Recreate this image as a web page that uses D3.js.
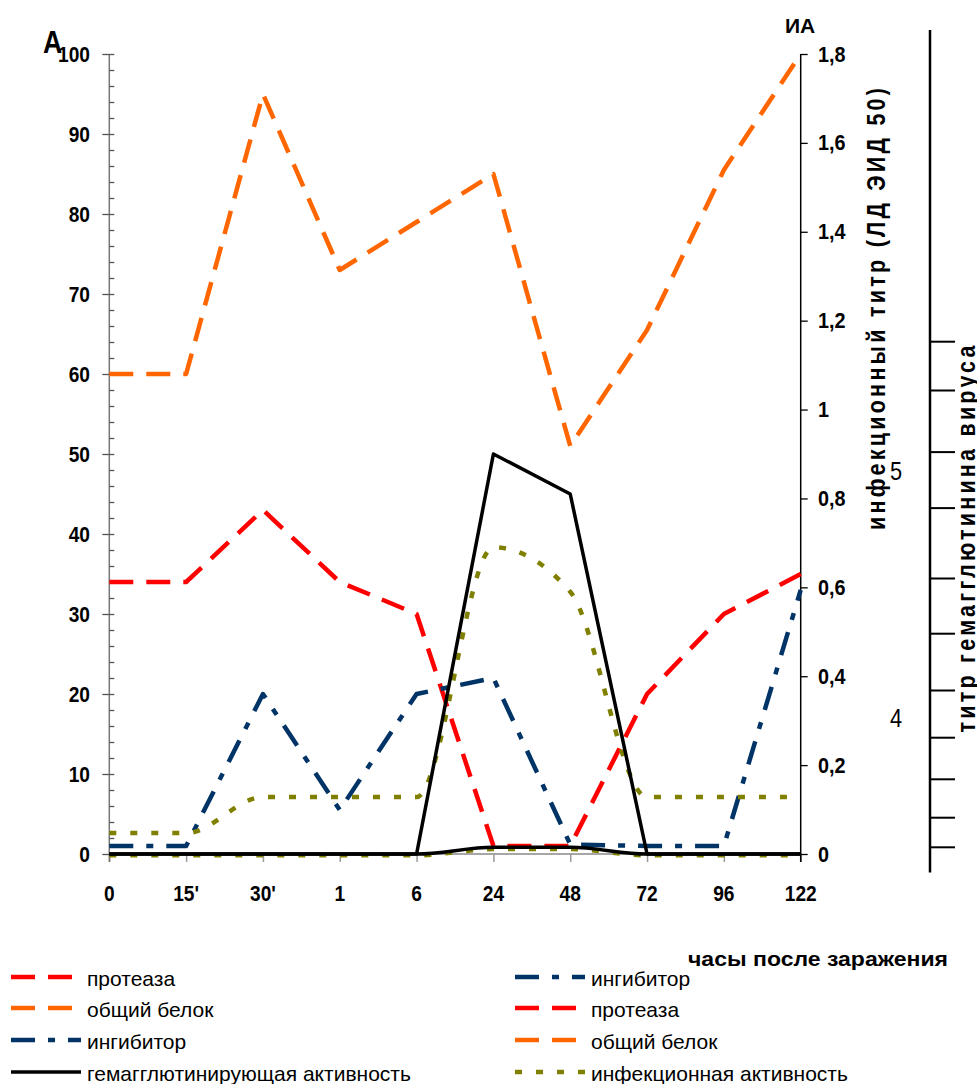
<!DOCTYPE html>
<html><head><meta charset="utf-8">
<script src="https://cdn.jsdelivr.net/npm/d3@7"></script>
<style>body{margin:0;background:#fff}svg{display:block}</style>
</head><body><svg id="c" width="977" height="1084"></svg>
<script>
// ---------- data ----------
const categories = ["0","15'","30'","1","6","24","48","72","96","122"];
const protease      = [34, 34, 43, 34, 30, 1, 1, 20, 30, 35];
const totalProtein  = [60, 60, 95, 73, 79, 85, 51, 65.5, 85.5, 100];
const inhibitor     = [1, 1, 20, 5.5, 20, 22, 1.2, 1, 1, 33];
const hemagglut     = [0, 0, 0, 0, 0, 50, 45, 0, 0, 0];
// secondary axis (ИА)
const infectious    = [0.047, 0.047, 0.128, 0.128, 0.128, 0.69, 0.59, 0.128, 0.128, 0.128];
const hemagglut2    = [0, 0, 0, 0, 0, 0.015, 0.015, 0, 0, 0];
const infectious2   = [-0.003, -0.003, -0.003, -0.003, -0.003, 0.011, 0.011, -0.003, -0.003, -0.003];

const leftTicks = [0,10,20,30,40,50,60,70,80,90,100];
const leftMinorTicks = d3.range(0, 101, 2);
const rightTicks = [0,0.2,0.4,0.6,0.8,1,1.2,1.4,1.6,1.8];
const rightTickLabels = ["0","0,2","0,4","0,6","0,8","1","1,2","1,4","1,6","1,8"];
// far right (hemagglutinin titre) axis, in its own units
const farTicks = [0.9, 4.6, 9.4, 14.6, 20.5, 27.6, 34.5, 43.3, 50.3, 58, 64.1];
const farLabelValues = [47.9, 17];
const farLabelTexts = ["5", "4"];

const legendLeftNames  = ["протеаза","общий белок","ингибитор","гемагглютинирующая активность"];
const legendLeftKeys   = ["protease","protein","inhibitor","hemag"];
const legendRightNames = ["ингибитор","протеаза","общий белок","инфекционная активность"];
const legendRightKeys  = ["inhibitor","protease","protein","infect"];

// ---------- styles ----------
const styles = {
  protease: {color:"#FF0000", dash:"24,13", w:4.5},
  protein:  {color:"#FF6600", dash:"24,13", w:4.5},
  inhibitor:{color:"#003366", dash:"24,13,7,13", w:4.5},
  hemag:    {color:"#000000", dash:null, w:3.5},
  infect:   {color:"#808000", dash:"7,14", w:4.5}
};
const FF = '"Liberation Sans", Arial, sans-serif';

const svg = d3.select("#c");
const x  = d3.scalePoint().domain(categories).range([109.3, 800.7]);
const yL = d3.scaleLinear().domain([0,100]).range([854,54]);
const yR = d3.scaleLinear().domain([0,1.8]).range([854,54]);
const yF = d3.scaleLinear().domain([0,100]).range([854,54]);

function txt(g, px, py, s, o) {
  o = Object.assign({size:22, weight:"bold", anchor:"start", sx:1, fill:"#000"}, o||{});
  return g.append("text")
    .attr("transform", `translate(${px},${py}) scale(${o.sx},1)`)
    .attr("text-anchor", o.anchor)
    .attr("fill", o.fill)
    .style("font-family", FF).style("font-size", o.size+"px").style("font-weight", o.weight)
    .text(s);
}
function vtitle(px, py, s, len, sx) {
  svg.append("text").attr("transform",`translate(${px},${py}) rotate(-90) scale(${sx},1)`)
    .attr("text-anchor","middle")
    .attr("textLength", len/sx).attr("lengthAdjust","spacing")
    .style("font-family",FF).style("font-size","25px").style("font-weight","bold")
    .text(s);
}

// ---------- axes ----------
const axG = svg.append("g");
axG.append("line").attr("x1", x("0")).attr("x2", x("122")).attr("y1", yL(0)).attr("y2", yL(0))
  .attr("stroke","#888").attr("stroke-width",1.5);
axG.append("g").attr("transform",`translate(0,${yL(0)})`)
  .call(d3.axisBottom(x).tickSize(8).tickSizeOuter(0).tickFormat(""))
  .call(g=>{g.select(".domain").remove(); g.selectAll("line").attr("stroke","#999").attr("stroke-width",1.5);});
categories.forEach(c => txt(axG, x(c), 901, c, {anchor:"middle", sx:0.87}));

// left axis
axG.append("line").attr("x1",109.3).attr("x2",109.3).attr("y1",yL(100)).attr("y2",yL(0)+8)
  .attr("stroke","#777").attr("stroke-width",1.5);
axG.append("g").attr("transform","translate(109.3,0)")
  .call(d3.axisRight(yL).tickValues(leftMinorTicks).tickSize(5).tickSizeOuter(0).tickFormat(""))
  .call(g=>{g.select(".domain").remove(); g.selectAll("line").attr("stroke","#555").attr("stroke-width",1.3);});
axG.append("g").attr("transform","translate(109.3,0)")
  .call(d3.axisLeft(yL).tickValues(leftTicks).tickSize(7).tickSizeOuter(0).tickFormat(""))
  .call(g=>{g.select(".domain").remove(); g.selectAll("line").attr("stroke","#555").attr("stroke-width",1.3);});
leftTicks.forEach(v => txt(axG, 90, yL(v)+8, String(v), {anchor:"end", sx:0.87}));

// right axis
axG.append("line").attr("x1",800.7).attr("x2",800.7).attr("y1",yR(1.8)).attr("y2",yR(0)+8)
  .attr("stroke","#000").attr("stroke-width",1.5);
axG.append("g").attr("transform","translate(800.7,0)")
  .call(d3.axisRight(yR).tickValues(rightTicks).tickSize(7).tickSizeOuter(0).tickFormat(""))
  .call(g=>{g.select(".domain").remove(); g.selectAll("line").attr("stroke","#000").attr("stroke-width",1.3);});
rightTicks.forEach((v,i) => txt(axG, 818, yR(v)+7.5, rightTickLabels[i], {anchor:"start", sx:0.9}));

// far right axis
axG.append("line").attr("x1",930).attr("x2",930).attr("y1",yF(103)).attr("y2",yF(-2.3))
  .attr("stroke","#000").attr("stroke-width",2.5);
axG.append("g").attr("transform","translate(930,0)")
  .call(d3.axisRight(yF).tickValues(farTicks).tickSize(25).tickSizeOuter(0).tickFormat(""))
  .call(g=>{g.select(".domain").remove(); g.selectAll("line").attr("stroke","#000").attr("stroke-width",2);});
farLabelValues.forEach((v,i) => txt(axG, 896, yF(v)+9, farLabelTexts[i], {anchor:"middle", weight:"normal", size:25, sx:0.87}));

// titles
txt(svg, 43, 53, "А", {size:32, sx:0.83});
txt(svg, 785, 33, "ИА", {size:21, sx:1});
vtitle(885, 309, "инфекционный титр (ЛД ЭИД 50)", 442, 0.86);
vtitle(975, 539, "титр гемагглютинина вируса", 387, 0.86);
svg.append("text").attr("x",948).attr("y",966).attr("text-anchor","end")
  .attr("textLength",260).attr("lengthAdjust","spacingAndGlyphs")
  .style("font-family",FF).style("font-size","21px").style("font-weight","bold")
  .text("часы после заражения");

// ---------- series ----------
const plot = svg.append("g").attr("fill","none");
function series(vals, y, key, curve) {
  const st = styles[key];
  const line = d3.line().x((d,i)=>x(categories[i])).y(d=>y(d)).curve(curve||d3.curveLinear);
  const p = plot.append("path").datum(vals).attr("d", line)
    .attr("stroke", st.color).attr("stroke-width", st.w).attr("stroke-linejoin","round");
  if (st.dash) p.attr("stroke-dasharray", st.dash);
}
series(totalProtein, yL, "protein");
series(protease, yL, "protease");
series(inhibitor, yL, "inhibitor");
series(infectious, yR, "infect", d3.curveMonotoneX);
series(infectious2, yR, "infect", d3.curveMonotoneX);
series(hemagglut, yL, "hemag");
series(hemagglut2, yR, "hemag", d3.curveMonotoneX);

// ---------- legend ----------
const rowsY = [977, 1008, 1040, 1072];
const lg = svg.append("g");
function legendCol(names, keys, x0, x1, tx) {
  names.forEach((n,i) => {
    const st = styles[keys[i]];
    const l = lg.append("line").attr("x1",x0).attr("x2",x1).attr("y1",rowsY[i]).attr("y2",rowsY[i])
      .attr("stroke",st.color).attr("stroke-width",st.w);
    if (st.dash) l.attr("stroke-dasharray", st.dash);
    txt(lg, tx, rowsY[i]+9, n, {size:21, weight:"normal"});
  });
}
legendCol(legendLeftNames, legendLeftKeys, 11, 81, 87);
legendCol(legendRightNames, legendRightKeys, 515, 585, 591);
</script></body></html>
